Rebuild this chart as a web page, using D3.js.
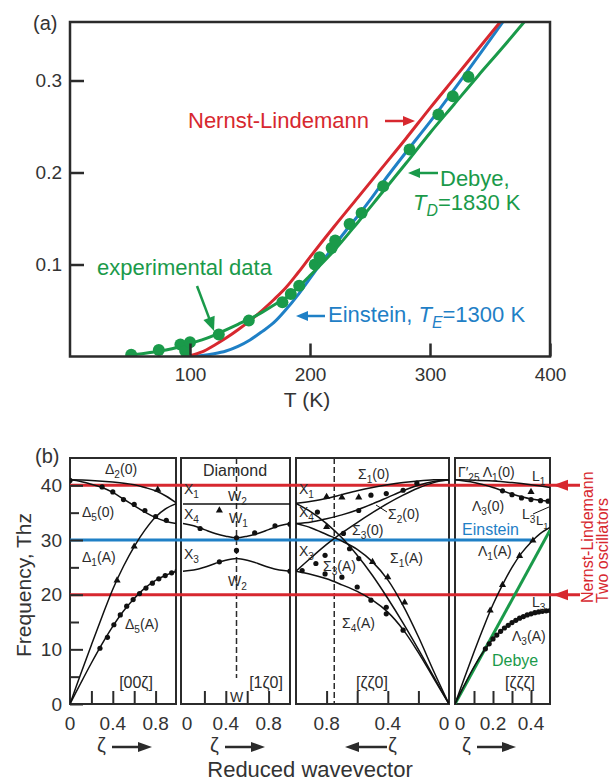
<!DOCTYPE html>
<html><head><meta charset="utf-8">
<script src="https://cdn.jsdelivr.net/npm/d3@7"></script>
<style>body{margin:0;background:#fff}svg{display:block}</style>
</head><body><svg id="c" width="610" height="784"></svg>
<script>
// ================= DATA : panel (a) =================
const aXTicks = [100, 200, 300, 400];
const aYTicks = [0.1, 0.2, 0.3];
const nernstT = [100,110,120,130,140,150,160,170,180,190,200,220,240,260,280,300,320,340,360];
const nernstC = [0.001,0.005,0.012,0.020,0.029,0.039,0.050,0.062,0.075,0.091,0.108,0.141,0.173,0.205,0.237,0.270,0.302,0.334,0.366];
const einsteinT = [100,110,120,130,140,150,160,170,180,190,200,210,220,230,240,250,260,280,300,320,340,362];
const einsteinC = [0,0.001,0.003,0.006,0.011,0.018,0.027,0.037,0.051,0.067,0.085,0.103,0.120,0.137,0.153,0.170,0.188,0.222,0.255,0.290,0.326,0.366];
const debyeT = [51,60,70,80,90,100,110,120,130,140,150,160,170,180,190,200,220,240,260,280,300,320,340,360,380];
const debyeC = [0.002,0.003,0.005,0.007,0.010,0.014,0.018,0.023,0.029,0.035,0.041,0.048,0.056,0.064,0.075,0.088,0.115,0.146,0.178,0.210,0.243,0.274,0.305,0.335,0.366];
const expT = [51,74,92,96,100,124,149,177,184,191,204,208,218,221,233,243,261,283,307,319,332];
const expC = [0.002,0.007,0.013,0.006,0.0155,0.024,0.039,0.059,0.068,0.077,0.100,0.108,0.118,0.126,0.144,0.156,0.185,0.225,0.263,0.283,0.304];

// ================= DATA : panel (b) (zeta, THz) =================
const bYMajor = [0, 10, 20, 30, 40];
const bYMinor = [5, 15, 25, 35];
const nlLevels = [40, 20];      // Nernst-Lindemann two oscillators
const einLevel = 30;            // Einstein
// [00ζ]
const d2_0 = [[0,41],[0.2,40.9],[0.4,40.6],[0.6,40.1],[0.7,39.6],[0.8,39.0],[0.9,38.0],[1.0,36.7]];
const d5_0 = [[0,41],[0.1,40.7],[0.2,40.2],[0.3,39.6],[0.4,38.7],[0.5,37.5],[0.6,36.3],[0.7,35.1],[0.8,34.1],[0.9,33.4],[1.0,33.0]];
const d1_A = [[0,0],[0.1,5.5],[0.2,10.8],[0.3,16],[0.4,21],[0.5,25.2],[0.6,28.8],[0.7,31.8],[0.8,34.2],[0.9,35.8],[1.0,36.7]];
const d5_A = [[0,0],[0.1,3.8],[0.2,7.5],[0.3,11],[0.4,14.2],[0.5,17],[0.6,19.3],[0.7,21.2],[0.8,22.6],[0.9,23.6],[1.0,24.3]];
const p1Dots = [[0,40.9],[0.3,39.7],[0.4,38.8],[0.5,37.4],[0.6,36.5],[0.7,35.4],[0.8,34.3],[0.9,33.6],
  [0.28,10.2],[0.35,12.2],[0.41,14.5],[0.47,16.3],[0.53,17.9],[0.59,19.1],[0.65,20.2],[0.71,21.2],[0.77,22.1],[0.83,22.9],[0.89,23.5],[0.95,24.0],[1.0,24.3]];
const p1Tri = [[0.82,39.2],[0.6,28.8],[0.44,22.6]];
// [1ζ0]
const x1w2 = [[0,36.6],[0.5,36.6],[1,36.6]];
const x4w1 = [[0,33.0],[0.1,32.6],[0.2,31.9],[0.3,31.2],[0.4,30.7],[0.5,30.4],[0.6,30.7],[0.7,31.2],[0.8,31.9],[0.9,32.6],[1,33.0]];
const x3w2 = [[0,24.3],[0.1,24.5],[0.2,25.0],[0.3,25.7],[0.4,26.3],[0.5,26.6],[0.6,26.3],[0.7,25.7],[0.8,25.0],[0.9,24.5],[1,24.3]];
const p2Dots = [[0.16,32.1],[0.5,30.4],[0.67,31.3],[0.86,32.6],[0.34,26.0],[0.5,28.1],[1.0,32.9],[1.0,24.3]];
const p2Tri = [[0.34,35.4]];
// [ζζ0]
const s1_0 = [[0,41],[0.1,41],[0.2,40.8],[0.3,40.5],[0.4,40.1],[0.5,39.6],[0.6,39],[0.7,38.3],[0.8,37.6],[0.9,37.1],[1,36.7]];
const s2_0 = [[0,41],[0.1,40.7],[0.2,40],[0.3,39],[0.4,37.8],[0.5,36.6],[0.6,35.5],[0.7,34.6],[0.8,33.9],[0.9,33.3],[1,33]];
const s3_0 = [[0,41],[0.1,40.5],[0.2,39.5],[0.3,38.2],[0.4,36.7],[0.5,35],[0.6,33.2],[0.7,31.3],[0.8,29.2],[0.9,26.8],[1,24.3]];
const s1_A = [[0,0],[0.1,6],[0.2,12.3],[0.3,18],[0.4,22.7],[0.5,26],[0.6,28.3],[0.7,29.8],[0.8,31],[0.9,32.2],[1,33]];
const s3_A = [[0,0],[0.1,5],[0.2,10],[0.3,14.8],[0.4,19.3],[0.5,23.5],[0.6,27.2],[0.7,30.4],[0.8,33],[0.9,35.1],[1,36.7]];
const s4_A = [[0,0],[0.1,4.7],[0.2,9.4],[0.3,13.6],[0.4,16.8],[0.5,19],[0.6,20.6],[0.7,21.8],[0.8,22.9],[0.9,23.7],[1,24.3]];
const p3Dots = [[0.51,38.2],[0.41,38.5],[0.30,39.1],[0.21,40.4],[0.86,35.1],[0.59,35.4],[0.69,31.2],
  [0.96,24.4],[0.87,25.7],[0.81,27.2],[0.81,23.8],[0.70,23.2],[0.60,21.4],[0.51,19.0],[0.41,17.7],[0.41,16.5],
  [0.65,28.4],[0.59,26.6],[0.30,13.5]];
const p3Tri = [[0.80,37.9],[0.70,37.8],[0.59,37.8],[0.80,32.4],[0.50,26.0],[0.40,23.2],[0.29,18.6]];
// [ζζζ]
const l1_0 = [[0,41],[0.1,40.95],[0.2,40.8],[0.3,40.5],[0.4,40.1],[0.5,39.6]];
const l3_0 = [[0,41],[0.1,40.5],[0.2,39.6],[0.3,38.4],[0.4,37.5],[0.5,37.1]];
const l1_A = [[0,0],[0.05,4.8],[0.1,9.5],[0.15,14],[0.2,18.2],[0.25,21.8],[0.3,25],[0.35,27.6],[0.4,29.6],[0.45,31.2],[0.5,32.3]];
const l3_A = [[0,0],[0.05,3.5],[0.1,6.8],[0.15,9.6],[0.2,11.9],[0.25,13.6],[0.3,14.9],[0.35,15.9],[0.4,16.5],[0.45,16.9],[0.5,17.1]];
const debyeLine = [[0,0],[0.5,31.8]];
const p4Dots = [[0.25,39.0],[0.3,38.3],[0.35,37.7],[0.4,37.4],[0.45,37.2],[0.49,37.1],
  [0.16,10.1],[0.18,11.0],[0.2,11.9],[0.22,12.6],[0.24,13.3],[0.26,13.9],[0.28,14.4],[0.3,14.9],[0.32,15.3],[0.34,15.7],[0.36,16.0],[0.38,16.3],[0.4,16.5],[0.42,16.7],[0.44,16.85],[0.46,16.95],[0.48,17.05],[0.5,17.1]];
const p4Tri = [[0.4,38.8],[0.185,17.1],[0.25,21.8],[0.34,27.1],[0.41,29.9]];

// ================= DRAWING =================
const FONT = '"Liberation Sans", Arial, Helvetica, sans-serif';
const RED = '#d7282f', BLUE = '#1f80c6', GREEN = '#1a9a4a', INK = '#2b2b2b';
const svg = d3.select('#c').style('font-family', FONT);

function parse(str){
  const segs=[]; const re=/_\{([^}]*)\}|_(.)|\*([^*]*)\*|([^_*]+)/g; let m;
  while((m=re.exec(str))){
    if(m[1]!==undefined){ let c=m[1], it=false; if(/^\*.*\*$/.test(c)){c=c.slice(1,-1);it=true;} segs.push({t:c,sub:true,it}); }
    else if(m[2]!==undefined) segs.push({t:m[2],sub:true});
    else if(m[3]!==undefined) segs.push({t:m[3],it:true});
    else segs.push({t:m[4]});
  }
  return segs;
}
function rich(g,x,y,str,o={}){
  const size=o.size||14;
  const t=g.append('text').attr('x',x).attr('y',y).attr('font-size',size+'px')
    .attr('fill',o.fill||INK).attr('text-anchor',o.anchor||'start').style('font-family',FONT);
  if(o.transform) t.attr('transform',o.transform);
  let cur=0;
  parse(str).forEach(s=>{
    const sp=t.append('tspan').text(s.t);
    const target=s.sub?0.28*size:0;
    if(target!==cur) sp.attr('dy',target-cur);
    cur=target;
    if(s.sub) sp.attr('font-size',(size*0.72)+'px');
    if(s.it) sp.attr('font-style','italic');
  });
  return t;
}
function arrow(g,x1,y1,x2,y2,color,w,hl,hw){
  const a=Math.atan2(y2-y1,x2-x1), c=Math.cos(a), s=Math.sin(a);
  const bx=x2-hl*c, by=y2-hl*s;
  g.append('line').attr('x1',x1).attr('y1',y1).attr('x2',bx+c).attr('y2',by+s).attr('stroke',color).attr('stroke-width',w);
  g.append('path').attr('d',`M${x2},${y2}L${bx-hw*s},${by+hw*c}L${bx+hw*s},${by-hw*c}Z`).attr('fill',color);
}

// ---------- panel (a) ----------
const xA = d3.scaleLinear().domain([0,400]).range([70,550]);
const yA = d3.scaleLinear().domain([0,0.3636]).range([356.5,22]);
const gA = svg.append('g');
gA.append('clipPath').attr('id','clipA').append('rect').attr('x',70).attr('y',22).attr('width',480).attr('height',334.5);

const lineA = d3.line().x(d=>xA(d[0])).y(d=>yA(d[1])).curve(d3.curveCatmullRom.alpha(0.5));
const plotA = gA.append('g').attr('clip-path','url(#clipA)');
plotA.append('path').attr('d',lineA(d3.zip(einsteinT,einsteinC))).attr('fill','none').attr('stroke',BLUE).attr('stroke-width',3);
plotA.append('path').attr('d',lineA(d3.zip(nernstT,nernstC))).attr('fill','none').attr('stroke',RED).attr('stroke-width',3);
plotA.append('path').attr('d',lineA(d3.zip(debyeT,debyeC))).attr('fill','none').attr('stroke',GREEN).attr('stroke-width',3);
plotA.selectAll('circle.exp').data(d3.zip(expT,expC)).join('circle').attr('class','exp')
  .attr('cx',d=>xA(d[0])).attr('cy',d=>yA(d[1])).attr('r',6).attr('fill',GREEN);

gA.append('rect').attr('x',70).attr('y',22).attr('width',480).attr('height',334.5)
  .attr('fill','none').attr('stroke',INK).attr('stroke-width',2.5);

function styleAxis(g,size){
  g.select('.domain').remove();
  g.selectAll('.tick line').attr('stroke',INK).attr('stroke-width',2.5);
  g.selectAll('.tick text').attr('font-size',size+'px').attr('fill','#333').style('font-family',FONT);
}
gA.append('g').attr('transform','translate(70,0)')
  .call(d3.axisLeft(yA).tickValues(aYTicks).tickSize(-14).tickPadding(8).tickFormat(d3.format('.1f')))
  .call(g=>styleAxis(g,19));
gA.append('g').attr('transform','translate(0,356.5)')
  .call(d3.axisBottom(xA).tickValues(aXTicks).tickSize(-13).tickPadding(11).tickFormat(d3.format('d')))
  .call(g=>styleAxis(g,19));

rich(gA,33,30,'(a)',{size:20,fill:'#333'});
rich(gA,307,407,'T (K)',{size:21,fill:'#333',anchor:'middle'});
rich(gA,188,128,'Nernst-Lindemann',{size:22,fill:RED});
arrow(gA,385,121,415,121,RED,2.5,12,5);
rich(gA,440,186,'Debye,',{size:22,fill:GREEN});
rich(gA,413,210,'*T*_{*D*}=1830 K',{size:22,fill:GREEN});
arrow(gA,438,173,408,173,GREEN,2.5,12,5);
rich(gA,97,275,'experimental data',{size:22,fill:GREEN});
arrow(gA,197,286,214,331,GREEN,2.5,14,6);
rich(gA,328,322,'Einstein, *T*_{*E*}=1300 K',{size:22,fill:BLUE});
arrow(gA,325,316,296,316,BLUE,2.5,12,5);

// ---------- panel (b) ----------
const yB = d3.scaleLinear().domain([0,45]).range([704,458]);
const panels = [
  {id:'p1', f:[70,176], dom:[0,1], rng:[70,177], ticks:[0.2,0.4,0.6,0.8], labels:[0,0.4,0.8], lab:'[00ζ]', labX:136,
   curves:[d2_0,d5_0,d1_A,d5_A], dots:p1Dots, tri:p1Tri},
  {id:'p2', f:[181,290], dom:[0,1], rng:[183,290], ticks:[0.2,0.4,0.6,0.8], labels:[0,0.4,0.8], lab:'[1ζ0]', labX:266,
   curves:[x1w2,x4w1,x3w2], dots:p2Dots, tri:p2Tri},
  {id:'p3', f:[296,449], dom:[0,1], rng:[449,296], ticks:[0.2,0.4,0.6,0.8], labels:[0.8,0.4,0], lab:'[ζζ0]', labX:372,
   curves:[s1_0,s2_0,s3_0,s1_A,s3_A,s4_A], dots:p3Dots, tri:p3Tri},
  {id:'p4', f:[455,550], dom:[0,0.5], rng:[455,550], ticks:[0.1,0.2,0.3,0.4], labels:[0,0.2,0.4], lab:'[ζζζ]', labX:520,
   curves:[l1_0,l3_0,l1_A,l3_A], dots:p4Dots, tri:p4Tri}
];
const gB = svg.append('g');
const yTop = 458, yBot = 704;
panels.forEach(p=>{
  p.x = d3.scaleLinear().domain(p.dom).range(p.rng);
  gB.append('clipPath').attr('id','clip'+p.id).append('rect')
    .attr('x',p.f[0]).attr('y',yTop).attr('width',p.f[1]-p.f[0]).attr('height',yBot-yTop);
  gB.append('rect').attr('x',p.f[0]).attr('y',yTop).attr('width',p.f[1]-p.f[0]).attr('height',yBot-yTop)
    .attr('fill','none').attr('stroke',INK).attr('stroke-width',2);
});

// dashed symmetry lines (W, K)
const pW = panels[1], pK = panels[2];
gB.append('line').attr('x1',pW.x(0.5)).attr('x2',pW.x(0.5)).attr('y1',yTop).attr('y2',678)
  .attr('stroke',INK).attr('stroke-width',1.5).attr('stroke-dasharray','6,3');
gB.append('line').attr('x1',pK.x(0.75)).attr('x2',pK.x(0.75)).attr('y1',yTop).attr('y2',yBot)
  .attr('stroke',INK).attr('stroke-width',1.5).attr('stroke-dasharray','6,3');

// colored reference levels
nlLevels.forEach(v=>{
  gB.append('line').attr('x1',70).attr('x2',580).attr('y1',yB(v)).attr('y2',yB(v)).attr('stroke',RED).attr('stroke-width',3);
  gB.append('path').attr('d',`M553,${yB(v)}L568,${yB(v)-5.5}L568,${yB(v)+5.5}Z`).attr('fill',RED);
});
gB.append('line').attr('x1',70).attr('x2',531).attr('y1',yB(einLevel)).attr('y2',yB(einLevel)).attr('stroke',BLUE).attr('stroke-width',3);

// curves + markers
panels.forEach(p=>{
  const g = gB.append('g').attr('clip-path',`url(#clip${p.id})`);
  const ln = d3.line().x(d=>p.x(d[0])).y(d=>yB(d[1])).curve(d3.curveCatmullRom.alpha(0.5));
  if(p.id==='p4'){
    g.append('path').attr('d',d3.line().x(d=>p.x(d[0])).y(d=>yB(d[1]))(debyeLine)).attr('fill','none').attr('stroke',GREEN).attr('stroke-width',3);
  }
  p.curves.forEach(c=>g.append('path').attr('d',ln(c)).attr('fill','none').attr('stroke','#111').attr('stroke-width',1.5));
  g.selectAll('circle').data(p.dots).join('circle').attr('cx',d=>p.x(d[0])).attr('cy',d=>yB(d[1])).attr('r',2.6).attr('fill','#111');
  g.selectAll('path.tri').data(p.tri).join('path').attr('class','tri')
    .attr('d',d3.symbol().type(d3.symbolTriangle).size(22))
    .attr('transform',d=>`translate(${p.x(d[0])},${yB(d[1])})`).attr('fill','#111');
  // x axis
  const ax = gB.append('g').attr('transform',`translate(0,${yBot})`)
    .call(d3.axisBottom(p.x).tickValues(p.ticks).tickSize(-13).tickFormat(''));
  ax.select('.domain').remove();
  ax.selectAll('.tick line').attr('stroke',INK).attr('stroke-width',2);
  p.labels.forEach(v=>{
    let dx=0; if(p.id==='p2'&&v===0)dx=4; if(p.id==='p3'&&v===0)dx=-5; if(p.id==='p4'&&v===0)dx=5;
    gB.append('text').attr('x',p.x(v)+dx).attr('y',730).attr('text-anchor','middle').attr('font-size','19px')
      .attr('fill','#333').style('font-family',FONT).text(v===0?'0':d3.format('.1f')(v));
  });
  rich(gB,p.labX,688,p.lab,{size:16,anchor:'middle'});
});

// y axis (left of panel 1)
const yAx = gB.append('g').attr('transform','translate(70,0)');
yAx.append('g').call(d3.axisLeft(yB).tickValues(bYMinor).tickSize(-9).tickFormat('')).call(g=>{g.select('.domain').remove();g.selectAll('.tick line').attr('stroke',INK).attr('stroke-width',2);});
yAx.append('g').call(d3.axisLeft(yB).tickValues(bYMajor).tickSize(-13).tickPadding(8).tickFormat(d3.format('d')))
  .call(g=>{g.select('.domain').remove();g.selectAll('.tick line').attr('stroke',INK).attr('stroke-width',2);
    g.selectAll('.tick text').attr('font-size','19px').attr('fill','#333').style('font-family',FONT);});

// labels panel (b)
rich(gB,35,463,'(b)',{size:20,fill:'#333'});
rich(gB,0,0,'Frequency, Thz',{size:21,fill:'#333',anchor:'middle',transform:'translate(31,585) rotate(-90)'});
rich(gB,310,777,'Reduced wavevector',{size:22,fill:'#333',anchor:'middle'});
// panel 1
rich(gB,105,474,'Δ_2(0)'); rich(gB,82,517,'Δ_5(0)'); rich(gB,82,562,'Δ_1(A)'); rich(gB,125,629,'Δ_5(A)');
// panel 2
rich(gB,203,476,'Diamond',{size:16});
rich(gB,184,494,'X_1'); rich(gB,228,501,'W_2'); rich(gB,184,519,'X_4'); rich(gB,229,523,'W_1');
rich(gB,184,559,'X_3'); rich(gB,228,586,'W_2'); rich(gB,230,702,'W');
// panel 3
rich(gB,299,494,'X_1'); rich(gB,299,517,'X_4'); rich(gB,299,556,'X_3');
rich(gB,358,479,'Σ_1(0)'); rich(gB,388,519,'Σ_2(0)'); rich(gB,352,535,'Σ_3(0)');
rich(gB,390,563,'Σ_1(A)'); rich(gB,323,571,'Σ_3(A)'); rich(gB,342,628,'Σ_4(A)');
gB.append('line').attr('x1',387).attr('y1',512).attr('x2',376).attr('y2',505).attr('stroke','#111').attr('stroke-width',1);
// panel 4
rich(gB,458,477,'Γ′_{25} Λ_1(0)'); rich(gB,532,481,'L_1');
rich(gB,472,511,'Λ_3(0)'); rich(gB,522,519,'L_3'); rich(gB,536,525,'L_1',{size:13});
gB.append('line').attr('x1',533).attr('y1',514).attr('x2',549).attr('y2',507).attr('stroke','#111').attr('stroke-width',1);
rich(gB,462,535,'Einstein',{size:16,fill:BLUE});
rich(gB,478,556,'Λ_1(A)'); rich(gB,532,607,'L_3'); rich(gB,512,641,'Λ_3(A)');
rich(gB,492,666,'Debye',{size:16,fill:GREEN});
// zeta arrows
rich(gB,97,752,'ζ',{size:20,fill:'#333'}); arrow(gB,112,747,152,747,INK,2.5,14,5);
rich(gB,210,752,'ζ',{size:20,fill:'#333'}); arrow(gB,225,747,265,747,INK,2.5,14,5);
arrow(gB,387,747,345,747,INK,2.5,14,5); rich(gB,388,752,'ζ',{size:20,fill:'#333'});
rich(gB,462,752,'ζ',{size:20,fill:'#333'}); arrow(gB,477,747,516,747,INK,2.5,14,5);
// vertical red legend
rich(gB,0,0,'Nernst-Lindemann',{size:16,fill:RED,transform:'translate(593,603) rotate(-90)'});
rich(gB,0,0,'Two oscillators',{size:16,fill:RED,transform:'translate(608,603) rotate(-90)'});
</script></body></html>
